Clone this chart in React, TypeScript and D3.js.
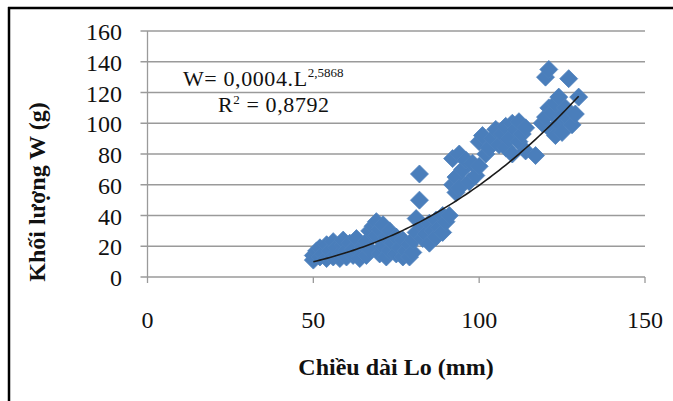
import { scaleLinear, line } from 'd3';

// Chiều dài Lo (mm) / Khối lượng W (g)
const lengths = [
  50, 50, 51, 52, 52, 53, 54, 54, 55, 56, 56, 57, 58, 58, 59, 59, 60, 60, 61, 62, 62, 63, 64, 64, 65, 66, 66,
  67, 67, 68, 69, 69, 70, 70, 71, 71, 72, 72, 73, 73, 74, 75, 75, 76, 77, 77, 78, 79, 79, 80, 80,
  81, 81, 82, 82, 83, 83, 84, 85, 85, 86, 87, 87, 88, 89, 89, 90, 91,
  92, 92, 93, 93, 94, 94, 95, 96, 97, 98, 99, 100, 100, 101, 102, 103,
  104, 105, 106, 107, 108, 108, 109, 110, 110, 111, 112, 112, 113, 114, 114,
  117, 119, 120, 120, 121, 121, 122, 122, 123, 123, 124, 124, 125, 125, 126, 127, 127, 128, 129, 130,
];
const weights = [
  14, 11, 17, 13, 19, 15, 12, 21, 17, 13, 23, 19, 15, 12, 21, 24, 17, 13, 22, 14, 18, 25, 16, 12, 20, 14, 23,
  18, 30, 33, 27, 36, 31, 15, 20, 34, 13, 26, 30, 17, 22, 15, 26, 19, 13, 24, 17, 21, 13, 16, 24,
  38, 29, 50, 67, 25, 33, 28, 22, 35, 30, 26, 37, 32, 29, 40, 36, 40,
  60, 77, 65, 55, 80, 58, 70, 76, 62, 74, 66, 72, 88, 92, 80, 84,
  90, 96, 86, 93, 98, 84, 90, 100, 80, 96, 88, 101, 93, 97, 82,
  79, 100, 104, 130, 110, 135, 95, 107, 92, 113, 100, 117, 105, 94, 110, 103, 129, 99, 106, 117,
];

const xTicks = [0, 50, 100, 150];
const yTicks = [0, 20, 40, 60, 80, 100, 120, 140, 160];

// power trendline W = a * L^b
const trendA = 0.0004;
const trendB = 2.5868;
const trendRange = [50, 130];

const W = 673;
const H = 401;
const serif = { fontFamily: "'Liberation Serif', 'DejaVu Serif', serif" };

export default function App() {
  const x = scaleLinear().domain([0, 150]).range([147.5, 645]);
  const y = scaleLinear().domain([0, 160]).range([277, 31]);

  const trendPts: [number, number][] = [];
  for (let l = trendRange[0]; l <= trendRange[1]; l += 1) trendPts.push([l, trendA * Math.pow(l, trendB)]);
  const trendPath = line<[number, number]>()
    .x((d) => x(d[0]))
    .y((d) => y(d[1]))(trendPts);

  const r = 9;
  const diamond = `M0,${-r}L${r},0L0,${r}L${-r},0Z`;

  return (
    <div style={{ position: 'fixed', left: 0, top: 0 }}>
      <svg width={W} height={H} style={{ display: 'block', background: '#fff' }}>
        {/* frame */}
        <line x1={9} x2={9} y1={7} y2={H} stroke="#000" strokeWidth={2.5} />
        <line x1={8} x2={W} y1={8} y2={8} stroke="#000" strokeWidth={2.5} />

        {/* gridlines + y ticks */}
        {yTicks.map((t) => (
          <g key={t}>
            <line x1={x(0) - 7} x2={x(150)} y1={y(t)} y2={y(t)} stroke="#9a9a9a" strokeWidth={1.3} />
            <text x={122} y={y(t) + 9} textAnchor="end" style={serif} fontSize={24} fill="#111">
              {t}
            </text>
          </g>
        ))}
        <line x1={x(0)} x2={x(0)} y1={y(160)} y2={y(0)} stroke="#9a9a9a" strokeWidth={1.3} />

        {/* x ticks */}
        {xTicks.map((t) => (
          <g key={t}>
            <line x1={x(t)} x2={x(t)} y1={y(0)} y2={y(0) + 6} stroke="#9a9a9a" strokeWidth={1.3} />
            <text x={x(t)} y={328} textAnchor="middle" style={serif} fontSize={24} fill="#111">
              {t}
            </text>
          </g>
        ))}

        {/* points */}
        {lengths.map((l, i) => (
          <path
            key={i}
            d={diamond}
            transform={`translate(${x(l)},${y(weights[i])})`}
            fill="#4a7ebb"
            stroke="#4f81bd"
            strokeWidth={0.8}
          />
        ))}

        {/* trendline */}
        <path d={trendPath || ''} fill="none" stroke="#1b1b1b" strokeWidth={1.6} />

        {/* equation */}
        <text x={183} y={86} style={serif} fontSize={22} letterSpacing={0.6} fill="#111">
          W= 0,0004.L
          <tspan dy={-9} fontSize={13} letterSpacing={0}>
            2,5868
          </tspan>
        </text>
        <text x={218} y={112} style={serif} fontSize={22} letterSpacing={0.6} fill="#111">
          R<tspan fontSize={13} dy={-8}>2</tspan>
          <tspan dy={8}> = 0,8792</tspan>
        </text>

        {/* axis titles */}
        <text x={396} y={375} textAnchor="middle" style={serif} fontSize={24} fontWeight="bold" fill="#111">
          Chiều dài Lo (mm)
        </text>
        <text
          transform="translate(45,192) rotate(-90)"
          textAnchor="middle"
          style={serif}
          fontSize={24}
          fontWeight="bold"
          fill="#111"
        >
          Khối lượng W (g)
        </text>
      </svg>
    </div>
  );
}
